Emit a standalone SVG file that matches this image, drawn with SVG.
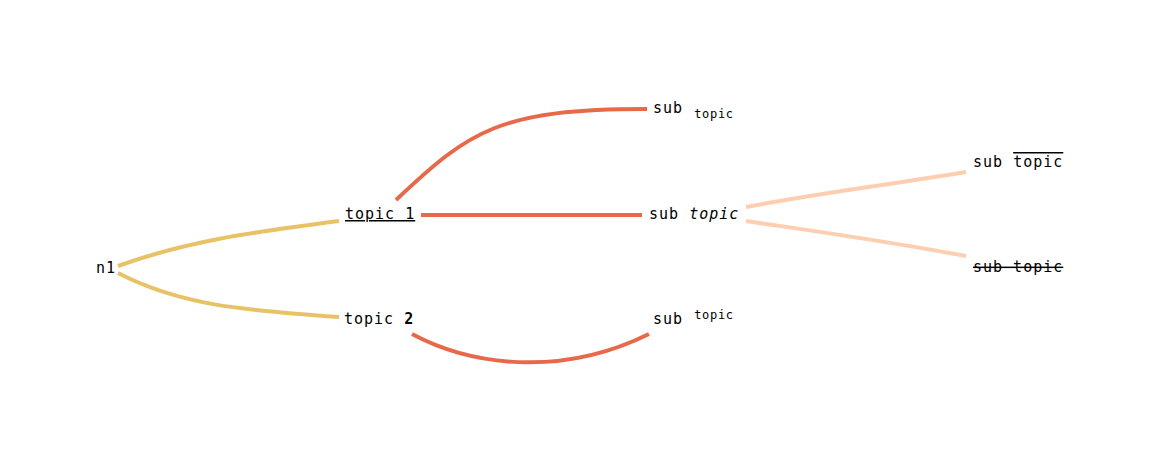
<svg xmlns="http://www.w3.org/2000/svg" width="1165" height="460" viewBox="0 0 1165 460">
<style>
text{font-family:"DejaVu Sans Mono","Liberation Mono",monospace;font-size:15px;letter-spacing:1px;fill:#000}
.sm{font-size:12px;letter-spacing:0.7px}
.l{fill:none;stroke-width:4;stroke-linecap:butt}
.y{stroke:#E8C266}
.r{stroke:#E8694A}
.p{stroke:#FFCDB0}
</style>
<rect width="1165" height="460" fill="#fff"/>
<g id="connectors">
<path class="l y" d="M118,266 C185,242 245,233 339,221"/>
<path class="l y" d="M118,273 C180,305 240,310 339,317"/>
<path class="l r" d="M396,200 C470,130 500,109 647,109"/>
<path class="l r" d="M421,215 L642,215"/>
<path class="l r" d="M412,334 C470,365 560,378 649,334"/>
<path class="l p" d="M746,207 C820,193 880,186 966,172"/>
<path class="l p" d="M746,221 C820,232 880,240 966,256"/>
</g>
<g id="n1"><text x="96" y="273">n1</text></g>
<g id="topic1"><text x="345" y="219" text-decoration="underline">topic 1</text></g>
<g id="topic2"><text x="344" y="324">topic <tspan font-weight="bold">2</tspan></text></g>
<g id="sub1"><text x="653" y="113">sub <tspan class="sm" dx="1" dy="5">topic</tspan></text></g>
<g id="sub2"><text x="649" y="219">sub <tspan font-style="italic">topic</tspan></text></g>
<g id="sub3"><text x="653" y="324">sub <tspan class="sm" dx="1" dy="-5">topic</tspan></text></g>
<g id="sub4"><text x="973" y="167">sub <tspan text-decoration="overline">topic</tspan></text></g>
<g id="sub5"><text x="973" y="272" text-decoration="line-through">sub topic</text></g>
</svg>
